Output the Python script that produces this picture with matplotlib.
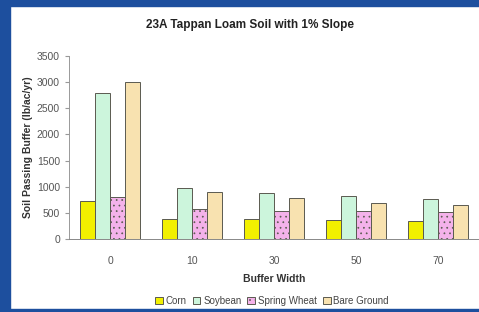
import numpy as np
import matplotlib
matplotlib.use('Agg')
import matplotlib.pyplot as plt
from matplotlib.patches import Rectangle

# data
widths = ['0', '10', '30', '50', '70']
corn = [725, 380, 380, 363, 344]
soybean = [2790, 967, 884, 815, 770]
spring_wheat = [795, 567, 540, 529, 510]
bare_ground = [3000, 897, 777, 693, 655]

series = ['Corn', 'Soybean', 'Spring Wheat', 'Bare Ground']
values = [corn, soybean, spring_wheat, bare_ground]
colors = ['#f2f000', '#ccf5dc', '#f4b2ea', '#f8e2b0']

plt.rcParams['font.family'] = 'Liberation Sans'
plt.rcParams['hatch.color'] = '#eb9ee2'
plt.rcParams['hatch.linewidth'] = 0.5

fig = plt.figure(figsize=(4.79, 3.12), dpi=100)
fig.patch.set_facecolor('white')
# blue frame around the slide
fig.patches.append(Rectangle((0, 0), 10/479, 1, transform=fig.transFigure, color='#1d4f9e', zorder=0))
fig.patches.append(Rectangle((0, 1 - 6/312), 1, 6/312, transform=fig.transFigure, color='#1d4f9e', zorder=0))
fig.patches.append(Rectangle((0, 0), 1, 3/312, transform=fig.transFigure, color='#1d4f9e', zorder=0))

ax = fig.add_axes([69/479, 1 - 239/312, 410/479, 183/312])
x = np.arange(len(widths)) + 0.5
bw = 0.183
for i, (name, vals, c) in enumerate(zip(series, values, colors)):
    hatch = '...' if name == 'Spring Wheat' else None
    ax.bar(x + (i - 1.5) * bw, vals, width=bw, color=c, edgecolor='#5a5a50',
           linewidth=0.7, label=name, hatch=hatch, zorder=2)

ax.set_xlim(0, 5)
ax.set_ylim(0, 3500)
ax.set_yticks(range(0, 3501, 500))
ax.set_xticks(x)
ax.set_xticklabels(widths)
ax.tick_params(axis='x', length=0, pad=12, labelsize=7.5, colors='#555555')
ax.tick_params(axis='y', length=3, labelsize=7.5, colors='#555555', color='#999999')
for s in ['top', 'right']:
    ax.spines[s].set_visible(False)
ax.spines['left'].set_color('#999999')
ax.spines['bottom'].set_color('#888888')
ax.spines['left'].set_linewidth(0.7)
ax.spines['bottom'].set_linewidth(0.7)

ax.set_ylabel('Soil Passing Buffer (lb/ac/yr)', fontsize=7.5, fontweight='bold', color='#333333', labelpad=3)
ax.set_xlabel('Buffer Width', fontsize=7.5, fontweight='bold', color='#333333', labelpad=6)
fig.text(250/479, 1 - 25/312, '23A Tappan Loam Soil with 1% Slope', ha='center', va='center',
         fontsize=8.5, fontweight='bold', color='#222222')

fig.legend(loc='center', bbox_to_anchor=(272/479, 1 - 301/312), ncol=4, frameon=False,
           fontsize=7, handlelength=0.8, handleheight=0.8, handletextpad=0.3, columnspacing=0.6,
           labelcolor='#444444')

fig.savefig('out.png', dpi=100)
